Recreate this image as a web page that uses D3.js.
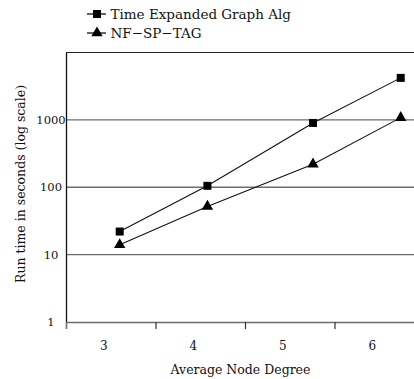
<!DOCTYPE html>
<html>
<head>
<meta charset="utf-8">
<script src="https://cdn.jsdelivr.net/npm/d3@7"></script>
<style>
  body { margin: 0; background: #fff; }
  svg { display: block; }
  text { font-family: "DejaVu Serif", serif; fill: #111; }
</style>
</head>
<body>
<div id="chart"></div>
<script>
// average node degree of each test graph
const degrees = [3.1, 4.08, 5.26, 6.24];
const tegTimes = [22, 105, 900, 4200];
const nfTimes = [14, 52, 220, 1080];
const xLabels = [3, 4, 5, 6];
const xBounds = [3.5, 4.5, 5.5, 6.5];
const yTicks = [1, 10, 100, 1000];
const seriesNames = ['Time Expanded Graph Alg', 'NF\u2212SP\u2212TAG'];

const width = 414;
const height = 379;
const margin = { left: 66, top: 52.5, right: -10, bottom: 57 };

const svg = d3.select('#chart')
    .append('svg')
    .attr('width', width)
    .attr('height', height);

const x = d3.scaleLinear()
    .domain([2.5, 6.5])
    .range([margin.left, width - margin.right]);

const y = d3.scaleLog()
    .domain([1, 10000])
    .range([height - margin.bottom, margin.top]);

// gridlines
svg.append('g')
    .selectAll('line')
    .data(yTicks.slice(1))
    .enter()
    .append('line')
    .attr('x1', x(2.5))
    .attr('x2', x(6.5))
    .attr('y1', d => y(d))
    .attr('y2', d => y(d))
    .attr('stroke', '#6e6e6e')
    .attr('stroke-width', 1.4);

// top border
svg.append('line')
    .attr('x1', x(2.5)).attr('x2', x(6.5))
    .attr('y1', y(10000)).attr('y2', y(10000))
    .attr('stroke', '#222').attr('stroke-width', 1.2);

// left axis
const yAxis = svg.append('g')
    .attr('transform', `translate(${x(2.5)},0)`)
    .call(d3.axisLeft(y).tickValues(yTicks).tickFormat(d3.format('d')).tickSize(0));
yAxis.select('.domain').attr('stroke', '#111').attr('stroke-width', 1.3);
yAxis.selectAll('text')
    .attr('x', -15)
    .attr('text-anchor', 'middle')
    .style('font-family', '"DejaVu Serif", serif')
    .style('font-size', '11.5px')
    .attr('fill', '#111');

// bottom axis: ticks between categories
const xAxis = svg.append('g')
    .attr('transform', `translate(0,${y(1)})`)
    .call(d3.axisBottom(x).tickValues(xBounds).tickFormat('').tickSizeOuter(0).tickSize(7));
xAxis.select('.domain').attr('stroke', '#6e6e6e').attr('stroke-width', 1.6);
xAxis.selectAll('.tick line').attr('stroke', '#333').attr('stroke-width', 1.2);

svg.append('g')
    .selectAll('text')
    .data(xLabels)
    .enter()
    .append('text')
    .attr('x', d => x(d) - 7)
    .attr('y', 350)
    .attr('text-anchor', 'middle')
    .style('font-size', '12px')
    .text(d => d);

svg.append('text')
    .attr('x', 240.5)
    .attr('y', 374)
    .attr('text-anchor', 'middle')
    .style('font-size', '12.5px')
    .text('Average Node Degree');

svg.append('text')
    .attr('transform', 'translate(25,184) rotate(-90)')
    .attr('text-anchor', 'middle')
    .style('font-size', '12.5px')
    .text('Run time in seconds (log scale)');

const line = d3.line()
    .x((d, i) => x(degrees[i]))
    .y(d => y(d));

const squareSym = d3.symbol().type(d3.symbolSquare).size(64);
const triSym = d3.symbol().type(d3.symbolTriangle).size(56);

[[tegTimes, squareSym], [nfTimes, triSym]].forEach(([vals, sym]) => {
    svg.append('path')
        .attr('d', line(vals))
        .attr('fill', 'none')
        .attr('stroke', '#111')
        .attr('stroke-width', 1.1);
    svg.append('g')
        .selectAll('path')
        .data(vals)
        .enter()
        .append('path')
        .attr('d', sym())
        .attr('transform', (d, i) => `translate(${x(degrees[i])},${y(d)})`)
        .attr('fill', '#000');
});

// legend
const legend = svg.append('g');
[[squareSym, 14], [triSym, 33]].forEach(([sym, ly], i) => {
    legend.append('line')
        .attr('x1', 87).attr('x2', 106)
        .attr('y1', ly).attr('y2', ly)
        .attr('stroke', '#111').attr('stroke-width', 1.3);
    legend.append('path')
        .attr('d', sym())
        .attr('transform', `translate(97,${ly})`)
        .attr('fill', '#000');
    legend.append('text')
        .attr('x', 110.5)
        .attr('y', ly + 4.5)
        .style('font-size', '13.5px')
        .text(seriesNames[i]);
});
</script>
</body>
</html>
